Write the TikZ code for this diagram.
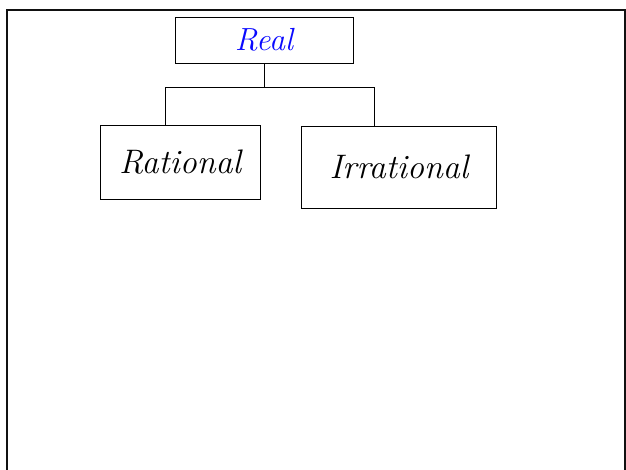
\documentclass[tikz,border=0pt]{standalone}
\usetikzlibrary{positioning, calc}
\definecolor{nbink}{HTML}{000000}
\definecolor{nbblue}{HTML}{0A0AFF}
\definecolor{nbframe}{HTML}{111111}
\tikzset{
  setbox/.style={rectangle, draw=nbink, line width=0.8pt, inner sep=0pt},
  setname/.style={font=\fontsize{34}{34}\selectfont\itshape, text=nbink},
  topname/.style={font=\fontsize{32}{32}\selectfont\itshape, text=nbblue},
  link/.style={draw=nbink, line width=0.8pt},
}

\begin{document}
\begin{tikzpicture}[x=1pt, y=-1pt]
      \useasboundingbox (0,0) rectangle (626,470);
      % page frame
      \draw[nbframe, line width=2.5pt] (7,470) -- (7,10) -- (625,10) -- (625,470);
      \node[setbox, minimum width=178pt, minimum height=46pt] (real) at (264,40) {};
      \node[topname] (realtxt) at (real.center) {Real};
      \node[setbox, minimum width=160pt, minimum height=74pt] (rat) at (180,162) {};
      \node[setname] (rattxt) at (rat.center) {Rational};
      \node[setbox, minimum width=195pt, minimum height=82pt] (irr) at (399,167) {};
      \node[setname] (irrtxt) at (irr.center) {Irrational};
      \coordinate (bl) at (165,87);
      \coordinate (br) at (374,87);
      \coordinate (split) at (real.south |- bl);
      \draw[link] (real.south) -- (split);
      \draw[link] (rat.north -| bl) -- (bl) -- (br) -- (irr.north -| br);
    \end{tikzpicture}
\end{document}
